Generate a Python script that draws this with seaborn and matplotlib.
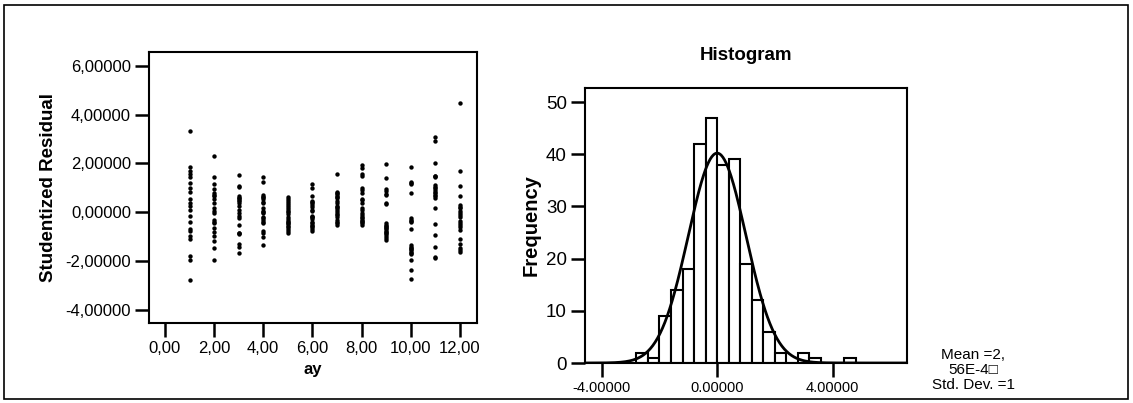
import numpy as np
import pandas as pd
import matplotlib
matplotlib.use("Agg")
import matplotlib.pyplot as plt
import seaborn as sns
from matplotlib.patches import Rectangle

# ---------------- data ----------------
ay_levels = [1, 2, 3, 4, 5, 6, 7, 8, 9, 10, 11, 12]
res_1 = [3.33, 1.84, 1.70, 1.55, 1.46, 1.21, 1.01, 0.84, 0.54, 0.37, 0.27, 0.10, -0.14, -0.38, -0.68, -0.75, -0.99, -1.09, -1.78, -1.95, -2.76]
res_2 = [2.30, 1.46, 1.16, 0.95, 0.78, 0.72, 0.68, 0.53, 0.39, 0.16, 0.07, -0.04, -0.31, -0.38, -0.45, -0.65, -0.79, -0.97, -1.16, -1.47, -1.95]
res_3 = [1.52, 1.09, 1.05, 0.67, 0.60, 0.57, 0.50, 0.45, 0.37, 0.27, 0.10, -0.01, -0.15, -0.24, -0.52, -0.83, -0.85, -0.90, -1.31, -1.40, -1.65]
res_4 = [1.46, 1.25, 0.71, 0.64, 0.61, 0.54, 0.44, 0.37, 0.16, 0.07, 0.02, -0.04, -0.18, -0.25, -0.31, -0.38, -0.45, -0.75, -0.86, -1.02, -1.33]
res_5 = [0.64, 0.55, 0.46, 0.38, 0.30, 0.22, 0.12, 0.05, 0.02, -0.08, -0.18, -0.28, -0.35, -0.38, -0.42, -0.48, -0.55, -0.62, -0.68, -0.76, -0.86]
res_6 = [1.16, 1.00, 0.68, 0.48, 0.42, 0.37, 0.30, 0.23, 0.10, 0.05, -0.14, -0.18, -0.20, -0.29, -0.38, -0.45, -0.52, -0.58, -0.62, -0.68, -0.75]
res_7 = [1.55, 0.84, 0.80, 0.75, 0.67, 0.62, 0.57, 0.48, 0.37, 0.27, 0.22, 0.19, 0.10, 0.00, -0.05, -0.11, -0.20, -0.31, -0.41, -0.45, -0.52]
res_8 = [1.93, 1.80, 1.55, 1.48, 0.98, 0.92, 0.78, 0.55, 0.50, 0.37, 0.16, 0.10, -0.04, -0.11, -0.18, -0.25, -0.31, -0.35, -0.38, -0.45, -0.52]
res_9 = [1.96, 1.39, 0.94, 0.88, 0.75, 0.70, 0.37, 0.33, -0.45, -0.50, -0.55, -0.60, -0.65, -0.69, -0.75, -0.79, -0.85, -0.90, -0.99, -1.05, -1.13]
res_10 = [1.84, 1.25, 1.20, 1.14, 0.78, -0.24, -0.30, -0.35, -0.38, -0.69, -1.33, -1.40, -1.47, -1.52, -1.55, -1.61, -1.65, -1.70, -1.95, -2.38, -2.73]
res_11 = [3.09, 2.93, 2.03, 1.50, 1.47, 1.45, 1.12, 1.05, 0.98, 0.91, 0.85, 0.78, 0.70, 0.67, 0.57, 0.19, -0.48, -0.93, -1.40, -1.81, -1.88]
res_12 = [4.49, 1.69, 1.07, 0.68, 0.30, 0.22, 0.16, 0.07, -0.04, -0.10, -0.18, -0.35, -0.45, -0.52, -0.61, -0.72, -1.10, -1.31, -1.47, -1.55, -1.61]
residual_groups = [res_1, res_2, res_3, res_4, res_5, res_6, res_7, res_8, res_9, res_10, res_11, res_12]

hist_edges = [-2.8, -2.4, -2.0, -1.6, -1.2, -0.8, -0.4, 0.0, 0.4, 0.8, 1.2, 1.6, 2.0, 2.4, 2.8, 3.2, 3.6, 4.0, 4.4, 4.8]
hist_counts = [2, 1, 9, 14, 18, 42, 47, 38, 39, 19, 12, 6, 2, 0, 2, 1, 0, 0, 1]
fit_mean = 0.000256
fit_std = 1.0
fit_n = 252

left_xticks = [0, 2, 4, 6, 8, 10, 12]
left_yticks = [-4, -2, 0, 2, 4, 6]
right_xticks = [-4, 0, 4]
right_yticks = [0, 10, 20, 30, 40, 50]
stats_text = "Mean =2,\n56E-4\u25a1\nStd. Dev. =1"

# ---------------- style ----------------
sns.set_style("ticks")
plt.rcParams["font.family"] = ["Liberation Sans", "DejaVu Sans"]
for k in ("text.color", "axes.labelcolor", "xtick.color", "ytick.color", "axes.edgecolor"):
    plt.rcParams[k] = "black"

W, H = 1133, 403
fig = plt.figure(figsize=(W / 100, H / 100), dpi=100)

def box(l, t, r, b):
    return [l / W, (H - b) / H, (r - l) / W, (b - t) / H]

ax1 = fig.add_axes(box(149, 52, 477, 323))
ax2 = fig.add_axes(box(585, 88, 907, 363))

# scatter
scatter_df = pd.DataFrame({
    "ay": np.repeat(ay_levels, [len(g) for g in residual_groups]),
    "res": np.concatenate(residual_groups),
})
sns.scatterplot(data=scatter_df, x="ay", y="res", ax=ax1, color="black",
                s=10, linewidth=0, legend=False)
ax1.set_xlim(-0.65, 12.7)
ax1.set_ylim(-4.53, 6.56)
ax1.set_xticks(left_xticks)
ax1.set_yticks(left_yticks)
ax1.set_xticklabels([f"{v:.2f}".replace(".", ",") for v in left_xticks], fontsize=12)
ax1.set_yticklabels([f"{v:.5f}".replace(".", ",") for v in left_yticks], fontsize=12)
ax1.set_xlabel("ay", fontsize=12, fontweight="bold", labelpad=4)
ax1.set_ylabel("Studentized Residual", fontsize=13.5, fontweight="bold", labelpad=6)

# histogram
centers = [(hist_edges[i] + hist_edges[i + 1]) / 2 for i in range(len(hist_counts))]
sns.histplot(x=centers, weights=hist_counts, bins=hist_edges, ax=ax2,
             color="white", edgecolor="black", linewidth=1.5, alpha=1.0)
binw = hist_edges[1] - hist_edges[0]
xs = np.linspace(-4.58, 6.58, 400)
ys = fit_n * binw / (fit_std * np.sqrt(2 * np.pi)) * np.exp(-0.5 * ((xs - fit_mean) / fit_std) ** 2)
sns.lineplot(x=xs, y=ys, ax=ax2, color="black", linewidth=2)
ax2.set_xlim(-4.58, 6.58)
ax2.set_ylim(0, 52.7)
ax2.set_xticks(right_xticks)
ax2.set_yticks(right_yticks)
ax2.set_xticklabels([f"{v:.5f}" for v in right_xticks], fontsize=10.5)
ax2.set_yticklabels([str(v) for v in right_yticks], fontsize=13.5)
ax2.set_xlabel("")
ax2.set_ylabel("Frequency", fontsize=14.5, fontweight="bold", labelpad=4)
ax2.set_title("Histogram", fontsize=13.5, fontweight="bold", pad=20, color="black")

for ax in (ax1, ax2):
    for sp in ax.spines.values():
        sp.set_visible(True)
        sp.set_linewidth(1.5)
        sp.set_color("black")
    ax.tick_params(direction="out", length=10, width=1.8, colors="black", pad=3)

fig.text(973 / W, 1 - 370 / H, stats_text, fontsize=11, ha="center", va="center",
         linespacing=1.05, color="black", family=["Liberation Sans", "DejaVu Sans"])

fig.patches.append(Rectangle((4 / W, 4 / H), (1128 - 4) / W, (398 - 4) / H,
                             transform=fig.transFigure, fill=False,
                             edgecolor="black", linewidth=1.2))

fig.savefig("out.png", dpi=100)
